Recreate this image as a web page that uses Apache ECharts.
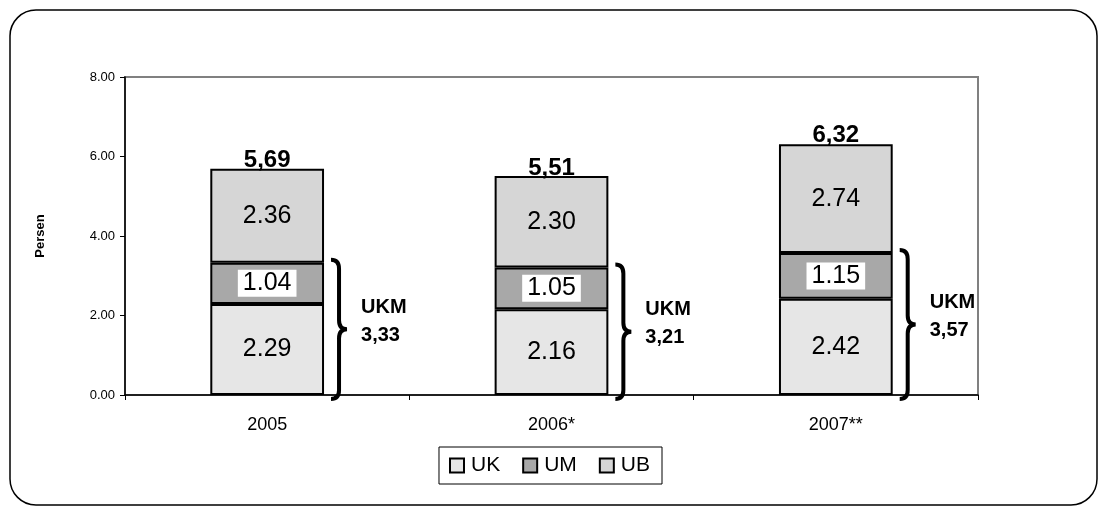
<!DOCTYPE html>
<html>
<head>
<meta charset="utf-8">
<script src="https://cdn.jsdelivr.net/npm/echarts@6/dist/echarts.min.js"></script>
<style>
  html, body { margin: 0; padding: 0; background: #fff; }
  #chart { width: 1099px; height: 507px; }
</style>
</head>
<body>
<div id="chart"></div>
<script>
const years = ['2005', '2006*', '2007**']
const uk = [2.29, 2.16, 2.42]
const um = [1.04, 1.05, 1.15]
const ub = [2.36, 2.30, 2.74]
const ukm = [3.33, 3.21, 3.57]
const totals = [5.69, 5.51, 6.32]
const yTicks = [0, 2, 4, 6, 8]

const FONT = 'Arial, Liberation Sans, sans-serif'
const comma = v => v.toFixed(2).replace('.', ',')

const chart = echarts.init(document.getElementById('chart'))

const segLabel = {
    show: true,
    position: 'inside',
    color: '#000',
    fontFamily: FONT,
    fontSize: 25,
    formatter: p => p.value.toFixed(2)
}

const barStyle = color => ({
    color: color,
    borderColor: '#000',
    borderWidth: 2
})

// brace + UKM text + total label for every year
function renderBrace(params, api) {
    const idx = api.value(0)
    const top = api.coord([idx, api.value(1)])
    const base = api.coord([idx, 0])
    const totalPt = api.coord([idx, api.value(2)])
    const band = api.size([1, 0])[0]
    const bx = top[0] + band * 0.2
    const xL = bx + 7, xM = bx + 15, xR = bx + 23
    const y0 = top[1] - 3, y1 = base[1] + 4
    const ym = (y0 + y1) / 2
    const r = 9
    const d = 'M' + xL + ' ' + y0 +
        ' Q' + xM + ' ' + y0 + ' ' + xM + ' ' + (y0 + r) +
        ' L' + xM + ' ' + (ym - r) +
        ' Q' + xM + ' ' + ym + ' ' + xR + ' ' + ym +
        ' Q' + xM + ' ' + ym + ' ' + xM + ' ' + (ym + r) +
        ' L' + xM + ' ' + (y1 - r) +
        ' Q' + xM + ' ' + y1 + ' ' + xL + ' ' + y1
    return {
        type: 'group',
        children: [
            {
                type: 'path',
                shape: { pathData: d },
                style: { fill: null, stroke: '#000', lineWidth: 4 }
            },
            {
                type: 'text',
                style: {
                    x: xR + 14,
                    y: ym - 8,
                    text: 'UKM\n' + comma(api.value(1)),
                    font: 'bold 20px ' + FONT,
                    lineHeight: 28,
                    fill: '#000',
                    verticalAlign: 'middle',
                    align: 'left'
                }
            },
            {
                type: 'text',
                style: {
                    x: totalPt[0],
                    y: totalPt[1] + 4,
                    text: comma(api.value(2)),
                    font: 'bold 24px ' + FONT,
                    fill: '#000',
                    verticalAlign: 'bottom',
                    align: 'center'
                }
            }
        ]
    }
}

const option = {
    animation: false,
    textStyle: { fontFamily: FONT },
    graphic: [
        {
            type: 'rect',
            shape: { x: 10, y: 10, width: 1087, height: 495, r: 26 },
            style: { fill: null, stroke: '#000', lineWidth: 1.5 },
            z: 0
        }
    ],
    grid: {
        left: 125,
        right: 121,
        top: 77,
        bottom: 112,
        show: true,
        borderColor: '#808080',
        borderWidth: 2
    },
    legend: {
        data: ['UK', 'UM', 'UB'],
        left: 'center',
        top: 447,
        padding: [8, 12, 8, 10],
        borderColor: '#000',
        borderWidth: 1,
        itemGap: 22,
        itemWidth: 14,
        itemHeight: 14,
        icon: 'rect',
        textStyle: { fontSize: 21, color: '#000', fontFamily: FONT, padding: [0, 0, 0, 2] }
    },
    xAxis: {
        type: 'category',
        data: years,
        axisLine: { lineStyle: { color: '#000', width: 1.5 } },
        axisTick: { show: true, length: 5, lineStyle: { color: '#000' } },
        axisLabel: { color: '#000', fontSize: 18, fontFamily: FONT, margin: 21 }
    },
    yAxis: {
        type: 'value',
        min: 0,
        max: 8,
        interval: 2,
        name: 'Persen',
        nameLocation: 'middle',
        nameGap: 78,
        nameTextStyle: { fontWeight: 'bold', fontSize: 13, color: '#000', fontFamily: FONT },
        axisLine: { show: true, lineStyle: { color: '#000', width: 1.5 } },
        axisTick: { show: true, length: 5, lineStyle: { color: '#000' } },
        splitLine: { show: false },
        axisLabel: {
            color: '#000',
            fontSize: 13,
            fontFamily: FONT,
            margin: 10,
            formatter: v => yTicks.includes(v) ? v.toFixed(2) : ''
        }
    },
    series: [
        {
            name: 'UK',
            type: 'bar',
            stack: 'total',
            barWidth: '40%',
            data: uk,
            itemStyle: barStyle('#e6e6e6'),
            label: segLabel
        },
        {
            name: 'UM',
            type: 'bar',
            stack: 'total',
            data: um,
            itemStyle: barStyle('#a8a8a8'),
            label: Object.assign({}, segLabel, {
                backgroundColor: '#fff',
                padding: [2, 5, 0, 5]
            })
        },
        {
            name: 'UB',
            type: 'bar',
            stack: 'total',
            data: ub,
            itemStyle: barStyle('#d6d6d6'),
            label: segLabel
        },
        {
            type: 'custom',
            renderItem: renderBrace,
            silent: true,
            z: 5,
            data: years.map((y, i) => [i, ukm[i], totals[i]])
        }
    ]
}

chart.setOption(option)
</script>
</body>
</html>
